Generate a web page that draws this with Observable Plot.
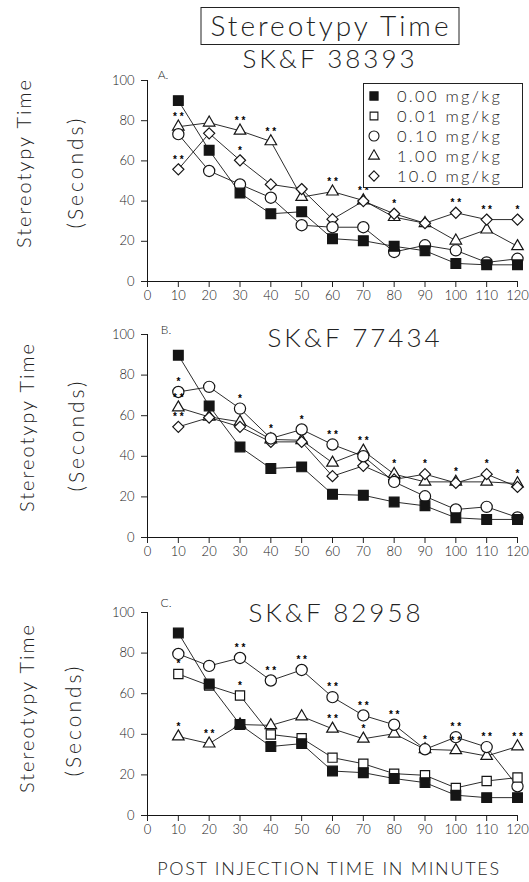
<!DOCTYPE html>
<html><head><meta charset="utf-8">
<script src="https://cdn.jsdelivr.net/npm/d3@7"></script>
<script src="https://cdn.jsdelivr.net/npm/@observablehq/plot@0.6"></script>
<style>
body{margin:0;background:#fff;}
#root{position:relative;width:529px;height:882px;font-family:Lato,"Open Sans",sans-serif;font-weight:300;color:#222;overflow:hidden;}
.abs{position:absolute;white-space:nowrap;line-height:1;}
.c{transform:translate(-50%,-50%);}
.rot{transform:translate(-50%,-50%) rotate(-90deg);}
.plot{position:absolute;left:0;}
</style></head><body><div id="root"></div>
<script>
// ---------- data ----------
const times = [10,20,30,40,50,60,70,80,90,100,110,120];
const xTicks = [0,10,20,30,40,50,60,70,80,90,100,110,120];
const yTicks = [0,20,40,60,80,100];
const doses = ["0.00 mg/kg","0.01 mg/kg","0.10 mg/kg","1.00 mg/kg","10.0 mg/kg"];
const panelTitles = ["SK&F 38393","SK&F 77434","SK&F 82958"];
const panelLetters = ["A.","B.","C."];

// Panel A: SK&F 38393
const a_000 = [90,65.3,44,33.7,34.7,21.3,20.3,17.5,15.3,9,8.3,8.3];
const a_010 = [73.3,55,48.3,41.7,28,27,27,14.7,18,15.5,9.5,11.3];
const a_100 = [77,79,75,69.7,42,44.7,40.3,32,29,20.3,25.8,17.5];
const a_1000 = [55.8,73.7,60.3,48.3,46,31,40,33.7,29,34.2,30.8,30.8];
const a_stars = [
  [10,"1.00 mg/kg","**"],[10,"10.0 mg/kg","**"],[30,"1.00 mg/kg","**"],[30,"10.0 mg/kg","*"],
  [40,"1.00 mg/kg","**"],[60,"1.00 mg/kg","**"],[70,"1.00 mg/kg","**"],[80,"10.0 mg/kg","*"],
  [100,"10.0 mg/kg","**"],[110,"10.0 mg/kg","**"],[120,"10.0 mg/kg","*"]
];

// Panel B: SK&F 77434
const b_000 = [89.8,64.8,44.6,34,34.8,21.3,20.8,17.5,15.6,9.7,8.9,8.9];
const b_010 = [71.7,74.2,63.5,48.8,53.2,45.8,40,27.4,20.3,13.8,15.1,9.9];
const b_100 = [64,59.4,57,48.3,47.9,36.8,42.7,31.2,27.4,27.4,27.4,26.6];
const b_1000 = [54.5,59.1,54.5,47.1,47.1,30.2,35.3,28.6,31.2,26.9,31.2,24.9];
const b_stars = [
  [10,"0.10 mg/kg","*"],[10,"1.00 mg/kg","**"],[10,"10.0 mg/kg","**"],[30,"0.10 mg/kg","*"],
  [40,"0.10 mg/kg","*"],[50,"0.10 mg/kg","*"],[60,"0.10 mg/kg","**"],[70,"1.00 mg/kg","**"],
  [80,"1.00 mg/kg","*"],[90,"10.0 mg/kg","*"],[100,"1.00 mg/kg","*"],[110,"10.0 mg/kg","*"],
  [120,"1.00 mg/kg","*"]
];

// Panel C: SK&F 82958
const c_000 = [89.9,64.8,44.8,34,35.4,21.9,21.1,18.2,16.2,10,8.8,8.8];
const c_001 = [69.7,64,59.1,39.9,38.1,28.5,25.5,20.6,19.8,13.6,17,18.7];
const c_010 = [79.6,73.7,77.6,66.5,71.7,58.3,49.3,44.7,32.6,38.6,33.7,14.4];
const c_100 = [38.9,35.4,44.8,44.4,48.8,42.7,37.8,40.3,32.6,32.1,29.3,34];
const c_stars = [
  [10,"0.01 mg/kg","*"],[10,"1.00 mg/kg","*"],[20,"1.00 mg/kg","**"],[30,"0.10 mg/kg","**"],
  [30,"0.01 mg/kg","*"],[40,"0.10 mg/kg","**"],[50,"0.10 mg/kg","**"],[60,"0.10 mg/kg","**"],
  [60,"1.00 mg/kg","**"],[70,"0.10 mg/kg","**"],[70,"1.00 mg/kg","*"],[80,"0.10 mg/kg","**"],
  [90,"0.10 mg/kg","*"],[100,"0.10 mg/kg","**"],[100,"1.00 mg/kg","**"],[110,"0.10 mg/kg","**"],
  [120,"1.00 mg/kg","**"]
];

// ---------- styling ----------
const INK = "#151515";
const symStyle = {
  "0.00 mg/kg": {symbol:"square", fill:INK, r:5.5, lr:4.6},
  "0.01 mg/kg": {symbol:"square", fill:"white", r:5.2, lr:4.4},
  "0.10 mg/kg": {symbol:"circle", fill:"white", r:5.6, lr:5},
  "1.00 mg/kg": {symbol:"triangle", fill:"white", r:4.3, lr:4},
  "10.0 mg/kg": {symbol:"diamond2", fill:"white", r:5, lr:4.6}
};
const drawOrder = ["1.00 mg/kg","10.0 mg/kg","0.10 mg/kg","0.01 mg/kg","0.00 mg/kg"];
const FONT = 'Lato, "Open Sans", sans-serif';

const root = document.getElementById("root");
function addText(txt, x, y, size, cls, extra="") {
  const d = document.createElement("div");
  d.className = "abs " + cls;
  d.textContent = txt;
  d.style.cssText += `left:${x}px;top:${y}px;font-size:${size}px;${extra}`;
  root.appendChild(d);
  return d;
}

function panel(series, stars, top, height) {
  const rows = [];
  for (const [dose, vals] of series) times.forEach((t,i) => rows.push({t, v: vals[i], dose}));
  const lookup = new Map(rows.map(d => [d.t + "|" + d.dose, d.v]));
  const starRows = stars.map(([t, dose, label]) => ({t, v: lookup.get(t + "|" + dose), label}));
  const present = series.map(s => s[0]);
  const marks = [
    Plot.ruleY([0], {stroke: INK, strokeWidth: 1}),
    Plot.ruleX([0], {stroke: INK, strokeWidth: 1}),
    ...present.map(dose => Plot.line(rows.filter(d => d.dose === dose), {x:"t", y:"v", stroke: INK, strokeWidth: 0.9})),
    ...drawOrder.filter(d => present.includes(d)).map(dose => {
      const s = symStyle[dose];
      return Plot.dot(rows.filter(d => d.dose === dose), {x:"t", y:"v", symbol: s.symbol, r: s.r, fill: s.fill, stroke: INK, strokeWidth: 1.2});
    }),
    Plot.text(starRows, {x:"t", y:"v", text: d => d.label.split("").join(" "), dy:-10, fontSize: 10, fontWeight: "bold", fill: "#000", fontFamily: "Liberation Sans"})
  ];
  const svg = Plot.plot({
    width: 529, height,
    marginLeft: 147, marginRight: 12, marginTop: 20, marginBottom: 29,
    x: {domain:[0,120], ticks: xTicks, tickSize: 6, tickPadding: 3, label: null},
    y: {domain:[0,100], ticks: yTicks, tickSize: 6, tickPadding: 7, label: null},
    style: {fontSize: "13px", fontFamily: FONT, color: "#222", background: "transparent"},
    marks
  });
  svg.classList.add("plot");
  svg.style.top = top + "px";
  root.appendChild(svg);
}

panel([["0.00 mg/kg", a_000],["0.10 mg/kg", a_010],["1.00 mg/kg", a_100],["10.0 mg/kg", a_1000]], a_stars, 60, 250);
panel([["0.00 mg/kg", b_000],["0.10 mg/kg", b_010],["1.00 mg/kg", b_100],["10.0 mg/kg", b_1000]], b_stars, 314, 252);
panel([["0.00 mg/kg", c_000],["0.01 mg/kg", c_001],["0.10 mg/kg", c_010],["1.00 mg/kg", c_100]], c_stars, 592, 252);

// ---------- texts ----------
addText("Stereotypy Time", 330, 26, 28, "c", "border:1px solid #222;padding:3px 7px 5px 9px;letter-spacing:3px;background:#fff;");
const titleY = [58, 337, 612];
const titleX = [330, 355, 336];
panelTitles.forEach((s,i) => addText(s, titleX[i], titleY[i], 26, "c", "letter-spacing:3px;"));
const letterXY = [[163,75],[166,330],[166,603]];
panelLetters.forEach((s,i) => addText(s, letterXY[i][0], letterXY[i][1], 12, "c"));
const yl1 = [[23,163],[26,427],[26,708]];
const yl2 = [[74,172],[75,435],[72,720]];
yl1.forEach(([x,y]) => addText("Stereotypy Time", x, y, 20, "rot", "letter-spacing:2px;"));
yl2.forEach(([x,y]) => addText("(Seconds)", x, y, 21, "rot", "letter-spacing:3px;"));
addText("POST INJECTION TIME IN MINUTES", 329, 868, 18, "c", "letter-spacing:1.7px;");

// ---------- legend ----------
const lg = document.createElement("div");
lg.className = "abs";
lg.style.cssText += "left:363px;top:83px;width:158px;height:103px;border:1px solid #222;background:#fff;";
root.appendChild(lg);
doses.forEach((dose, i) => {
  const s = symStyle[dose];
  const cy = 12 + i * 20;
  const sv = d3.create("svg").attr("width", 16).attr("height", 16)
    .style("position","absolute").style("left","2px").style("top",(cy-8)+"px");
  if (s.symbol === "circle") {
    sv.append("circle").attr("cx",8).attr("cy",8).attr("r",s.lr).attr("fill",s.fill).attr("stroke",INK).attr("stroke-width",1.1);
  } else {
    const type = {square: d3.symbolSquare, triangle: d3.symbolTriangle, diamond2: d3.symbolDiamond2}[s.symbol];
    sv.append("path").attr("transform","translate(8,8)").attr("d", d3.symbol(type, Math.PI*s.lr*s.lr)())
      .attr("fill", s.fill).attr("stroke", INK).attr("stroke-width", 1.1);
  }
  lg.appendChild(sv.node());
  const tx = document.createElement("div");
  tx.className = "abs";
  tx.textContent = dose;
  tx.style.cssText += `left:33px;top:${cy}px;transform:translateY(-50%);font-size:16.5px;line-height:16px;letter-spacing:2.3px;`;
  lg.appendChild(tx);
});
</script></body></html>
